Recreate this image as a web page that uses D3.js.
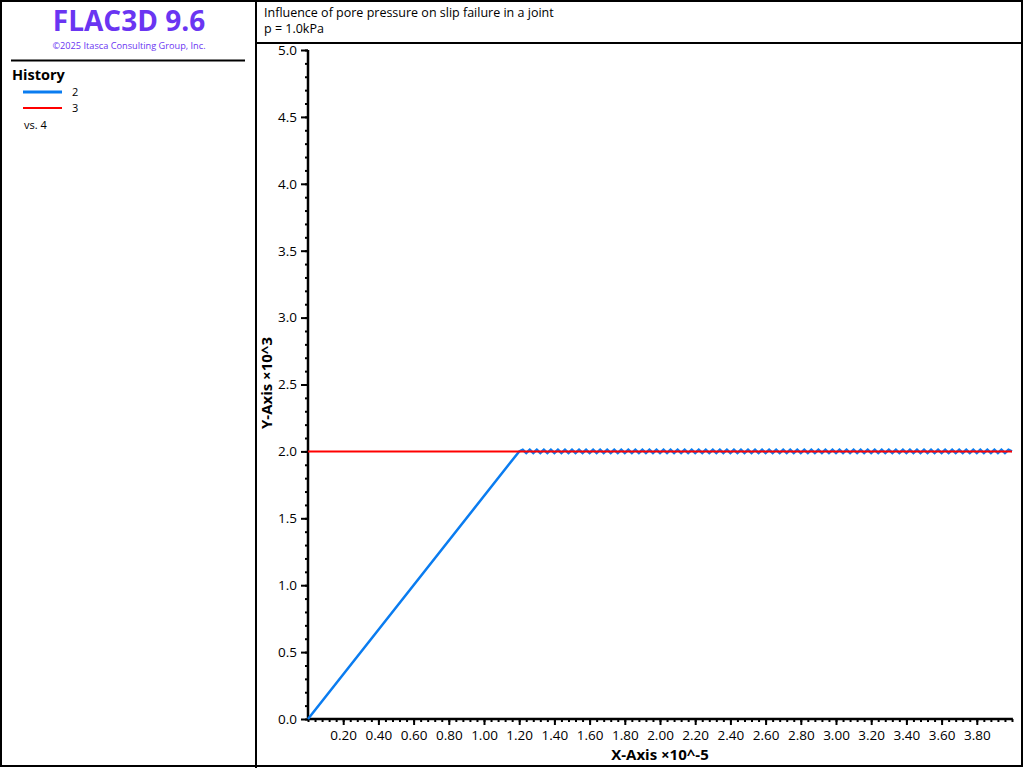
<!DOCTYPE html>
<html><head><meta charset="utf-8">
<script src="https://cdn.jsdelivr.net/npm/d3@7"></script>
<style>
html,body{margin:0;padding:0;background:#fff;}
svg{display:block;font-family:"Open Sans","Noto Sans",sans-serif;}
</style></head>
<body>
<svg id="chart" width="1024" height="768"></svg>
<script>
// ---- data ----
const appTitle = "FLAC3D 9.6";
const copyright = "\u00A92025 Itasca Consulting Group, Inc.";
const legendTitle = "History";
const seriesNames = ["2", "3"];
const vsLabel = "vs. 4";
const chartTitle = ["Influence of pore pressure on slip failure in a joint", "p = 1.0kPa"];
const xAxisLabel = "X-Axis \u00D710^-5";
const yAxisLabel = "Y-Axis \u00D710^3";
const xTickValues = [0.2,0.4,0.6,0.8,1.0,1.2,1.4,1.6,1.8,2.0,2.2,2.4,2.6,2.8,3.0,3.2,3.4,3.6,3.8];
const yTickValues = [0.0,0.5,1.0,1.5,2.0,2.5,3.0,3.5,4.0,4.5,5.0];
const xDomain = [0, 4.005];
const yDomain = [0, 5.0];

// series "2" (blue)
const blueX = [0.00,1.20,
1.22,1.24,1.26,1.28,1.30,1.32,1.34,1.36,1.38,1.40,
1.42,1.44,1.46,1.48,1.50,1.52,1.54,1.56,1.58,1.60,
1.62,1.64,1.66,1.68,1.70,1.72,1.74,1.76,1.78,1.80,
1.82,1.84,1.86,1.88,1.90,1.92,1.94,1.96,1.98,2.00,
2.02,2.04,2.06,2.08,2.10,2.12,2.14,2.16,2.18,2.20,
2.22,2.24,2.26,2.28,2.30,2.32,2.34,2.36,2.38,2.40,
2.42,2.44,2.46,2.48,2.50,2.52,2.54,2.56,2.58,2.60,
2.62,2.64,2.66,2.68,2.70,2.72,2.74,2.76,2.78,2.80,
2.82,2.84,2.86,2.88,2.90,2.92,2.94,2.96,2.98,3.00,
3.02,3.04,3.06,3.08,3.10,3.12,3.14,3.16,3.18,3.20,
3.22,3.24,3.26,3.28,3.30,3.32,3.34,3.36,3.38,3.40,
3.42,3.44,3.46,3.48,3.50,3.52,3.54,3.56,3.58,3.60,
3.62,3.64,3.66,3.68,3.70,3.72,3.74,3.76,3.78,3.80,
3.82,3.84,3.86,3.88,3.90,3.92,3.94,3.96,3.98,4.00];
const blueY = [0.000,2.000,
2.012,1.988,2.012,1.988,2.012,1.988,2.012,1.988,2.012,1.988,
2.012,1.988,2.012,1.988,2.012,1.988,2.012,1.988,2.012,1.988,
2.012,1.988,2.012,1.988,2.012,1.988,2.012,1.988,2.012,1.988,
2.012,1.988,2.012,1.988,2.012,1.988,2.012,1.988,2.012,1.988,
2.012,1.988,2.012,1.988,2.012,1.988,2.012,1.988,2.012,1.988,
2.012,1.988,2.012,1.988,2.012,1.988,2.012,1.988,2.012,1.988,
2.012,1.988,2.012,1.988,2.012,1.988,2.012,1.988,2.012,1.988,
2.012,1.988,2.012,1.988,2.012,1.988,2.012,1.988,2.012,1.988,
2.012,1.988,2.012,1.988,2.012,1.988,2.012,1.988,2.012,1.988,
2.012,1.988,2.012,1.988,2.012,1.988,2.012,1.988,2.012,1.988,
2.012,1.988,2.012,1.988,2.012,1.988,2.012,1.988,2.012,1.988,
2.012,1.988,2.012,1.988,2.012,1.988,2.012,1.988,2.012,1.988,
2.012,1.988,2.012,1.988,2.012,1.988,2.012,1.988,2.012,1.988,
2.012,1.988,2.012,1.988,2.012,1.988,2.012,1.988,2.012,2.000];
// series "3" (red)
const redX = [0.00, 4.00];
const redY = [2.00, 2.00];

const colors = ["#0a7cf0", "#ff0000"];
const purple = "#6a35f2";

// ---- drawing ----
const svg = d3.select("#chart");
const W = 1024, H = 768;

// frames
svg.append("line").attr("x1",256).attr("x2",1021).attr("y1",43).attr("y2",43)
  .attr("stroke","#000").attr("stroke-width",2);
svg.append("rect").attr("x",1).attr("y",1).attr("width",1021).attr("height",765)
  .attr("fill","none").attr("stroke","#000").attr("stroke-width",2);
svg.append("line").attr("x1",256).attr("x2",256).attr("y1",0).attr("y2",H)
  .attr("stroke","#000").attr("stroke-width",2);

// left panel
svg.append("text").attr("x",129).attr("y",31).attr("text-anchor","middle")
  .attr("font-size",28).attr("font-weight","bold").attr("fill",purple).text(appTitle);
svg.append("text").attr("x",129).attr("y",49).attr("text-anchor","middle")
  .attr("font-size",9.2).attr("fill",purple).text(copyright);
svg.append("line").attr("x1",11).attr("x2",245).attr("y1",60.5).attr("y2",60.5)
  .attr("stroke","#000").attr("stroke-width",2);
svg.append("text").attr("x",12).attr("y",80).attr("font-size",14.5).attr("font-weight","bold")
  .attr("fill","#000").text(legendTitle);
seriesNames.forEach((n,i)=>{
  const y = 92 + i*16;
  svg.append("line").attr("x1",23).attr("x2",62).attr("y1",y).attr("y2",y)
    .attr("stroke",colors[i]).attr("stroke-width",i===0?3:2);
  svg.append("text").attr("x",72).attr("y",y+4).attr("font-size",11).attr("fill","#000").text(n);
});
svg.append("text").attr("x",24).attr("y",129).attr("font-size",11).attr("fill","#000").text(vsLabel);

// title
chartTitle.forEach((t,i)=>{
  svg.append("text").attr("x",264).attr("y",17+i*16).attr("font-size",12.5).attr("fill","#000").text(t);
});

// scales
const x = d3.scaleLinear().domain(xDomain).range([308, 308 + 176*(xDomain[1]-xDomain[0])]);
const y = d3.scaleLinear().domain(yDomain).range([719, 50]);

// axes
const xMinor = d3.range(0, xDomain[1]+1e-9, 0.04);
const yMinor = d3.range(0, 5.0001, 0.1);
const gx = svg.append("g").attr("transform","translate(0,719)");
gx.call(d3.axisBottom(x).tickValues(xMinor).tickSize(3).tickFormat(""));
gx.call(g=>g.selectAll(".tick line").attr("stroke-width",2));
const gx2 = svg.append("g").attr("transform","translate(0,719)");
gx2.call(d3.axisBottom(x).tickValues(xTickValues).tickSize(6).tickPadding(5).tickFormat(d3.format(".2f")));
gx2.select(".domain").remove();
gx2.selectAll(".tick line").attr("stroke-width",2);
gx2.selectAll("text").attr("font-size",13.5).attr("fill","#000").attr("font-family","Open Sans");
gx.select(".domain").attr("stroke-width",2.5).attr("d",`M308,0H${x(xDomain[1])}`);

const gy = svg.append("g").attr("transform","translate(308,0)");
gy.call(d3.axisLeft(y).tickValues(yMinor).tickSize(3).tickFormat(""));
gy.selectAll(".tick line").attr("stroke-width",2);
gy.select(".domain").attr("stroke-width",2.5).attr("d","M0,50V719");
const gy2 = svg.append("g").attr("transform","translate(308,0)");
gy2.call(d3.axisLeft(y).tickValues(yTickValues).tickSize(7).tickPadding(4).tickFormat(d3.format(".1f")));
gy2.select(".domain").remove();
gy2.selectAll(".tick line").attr("stroke-width",2);
gy2.selectAll("text").attr("font-size",13.5).attr("fill","#000").attr("font-family","Open Sans");

// axis labels
svg.append("text").attr("x",660).attr("y",760).attr("text-anchor","middle")
  .attr("font-size",15).attr("font-weight","bold").attr("fill","#000").text(xAxisLabel);
svg.append("text").attr("transform","translate(272,383) rotate(-90)").attr("text-anchor","middle")
  .attr("font-size",15).attr("font-weight","bold").attr("fill","#000").text(yAxisLabel);

// lines
const line = d3.line().x(d=>x(d[0])).y(d=>y(d[1]));
svg.append("path").datum(blueX.map((v,i)=>[v,blueY[i]]))
  .attr("d",line).attr("fill","none").attr("stroke",colors[0]).attr("stroke-width",2.5);
svg.append("path").datum(redX.map((v,i)=>[v,redY[i]]))
  .attr("d",line).attr("fill","none").attr("stroke",colors[1]).attr("stroke-width",2);
</script>
</body></html>
